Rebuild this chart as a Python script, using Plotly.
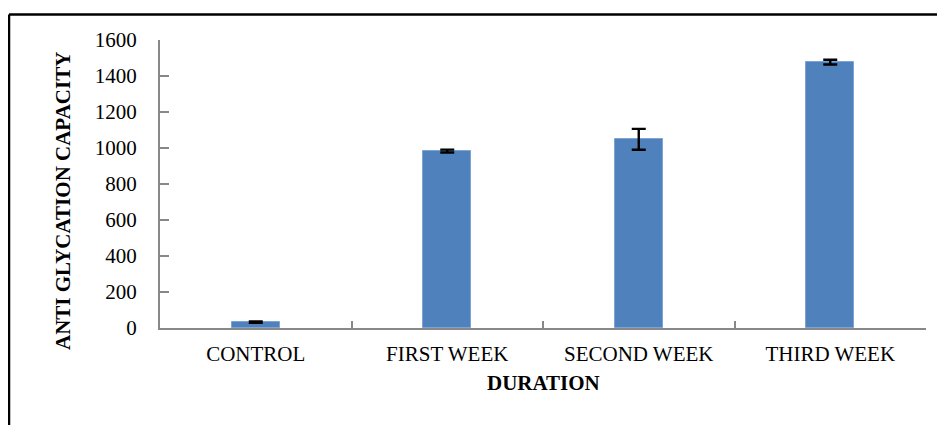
import plotly.graph_objects as go

categories = ["CONTROL", "FIRST WEEK", "SECOND WEEK", "THIRD WEEK"]
values = [33, 983, 1048, 1477]
errors = [4, 8, 58, 13]
y_ticks = [0, 200, 400, 600, 800, 1000, 1200, 1400, 1600]

# page is rendered with an 8px body margin; work in page pixels
OFF = 8
PAGE_W, PAGE_H = 945, 425
W, H = PAGE_W - OFF, PAGE_H - OFF
plot_left, plot_right, plot_top, plot_bottom = 160, 926, 40, 328
L = plot_left - OFF
T = plot_top - OFF
R = PAGE_W - plot_right
B = PAGE_H - plot_bottom
pw, ph = plot_right - plot_left, plot_bottom - plot_top

def px_x(p):
    return (p - plot_left) / pw

def px_y(p):
    return (plot_bottom - p) / ph

fig = go.Figure(go.Bar(
    x=categories, y=values, width=0.25,
    marker=dict(color="#4F81BD", line=dict(color="#7FA3D3", width=1)),
    error_y=dict(type="data", array=errors, visible=True, color="black",
                 thickness=2.4, width=7),
))

font_family = "Liberation Serif, Times New Roman, serif"

fig.update_layout(
    width=W, height=H,
    margin=dict(l=L, r=R, t=T, b=B),
    plot_bgcolor="white", paper_bgcolor="white",
    showlegend=False,
    font=dict(family=font_family, color="black"),
    bargap=0,
)
fig.update_xaxes(
    type="category", range=[-0.5, 3.5],
    showline=True, linecolor="#888888", linewidth=2,
    ticks="inside", tickson="boundaries", ticklen=7, tickwidth=2, tickcolor="#888888",
    tickfont=dict(size=21, family=font_family, color="black"),
    ticklabelstandoff=6,
    showgrid=False, zeroline=False,
)
fig.update_yaxes(
    range=[0, 1600], tickvals=y_ticks, ticktext=[str(v) for v in y_ticks],
    showline=True, linecolor="#888888", linewidth=2,
    ticks="inside", ticklen=9, tickwidth=2, tickcolor="#888888",
    tickfont=dict(size=21, family=font_family, color="black"),
    ticklabelstandoff=17,
    showgrid=False, zeroline=False,
)

fig.add_annotation(
    text="<b>DURATION</b>", xref="paper", yref="paper",
    x=px_x(543), y=px_y(383), xanchor="center", yanchor="middle",
    showarrow=False, font=dict(size=21, family=font_family, color="black"),
)
fig.add_annotation(
    text="<b>ANTI GLYCATION CAPACITY</b>", xref="paper", yref="paper",
    x=px_x(63), y=px_y(201), xanchor="center", yanchor="middle", textangle=-90,
    showarrow=False, font=dict(size=21, family=font_family, color="black"),
)

# outer frame (top and left edges visible)
fig.add_shape(type="line", xref="paper", yref="paper",
              x0=px_x(9), x1=px_x(950), y0=px_y(14.5), y1=px_y(14.5),
              line=dict(color="black", width=2.5))
fig.add_shape(type="line", xref="paper", yref="paper",
              x0=px_x(9), x1=px_x(9), y0=px_y(14.5), y1=px_y(430),
              line=dict(color="black", width=2.5))

fig.write_html("out.html")
